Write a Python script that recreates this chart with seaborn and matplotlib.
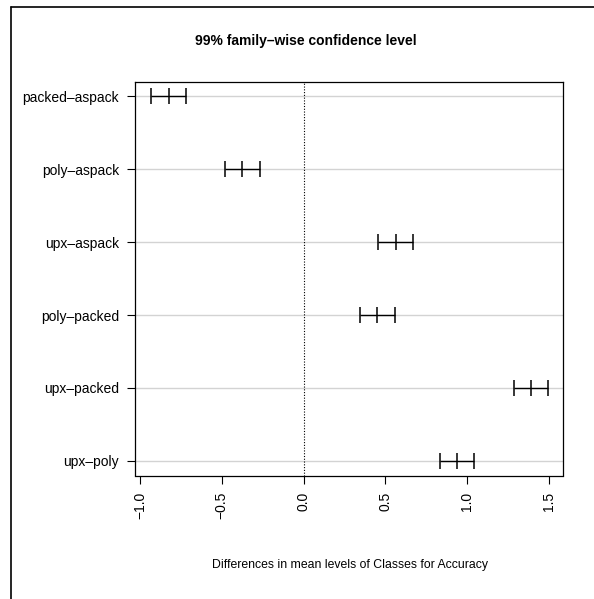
import matplotlib
matplotlib.use("Agg")
import matplotlib.pyplot as plt
import seaborn as sns
import pandas as pd
from matplotlib.lines import Line2D

comparisons = ["packed–aspack", "poly–aspack", "upx–aspack", "poly–packed", "upx–packed", "upx–poly"]
diff = [-0.825, -0.374, 0.562, 0.451, 1.389, 0.937]
lwr = [-0.932, -0.480, 0.454, 0.344, 1.283, 0.831]
upr = [-0.718, -0.268, 0.669, 0.558, 1.496, 1.044]
x_ticks = [-1.0, -0.5, 0.0, 0.5, 1.0, 1.5]

sns.set_theme(style="white")
plt.rcParams["font.family"] = ["Liberation Sans", "DejaVu Sans"]
plt.rcParams["text.color"] = "black"
plt.rcParams["xtick.color"] = "black"
plt.rcParams["ytick.color"] = "black"

pos = list(range(1, len(comparisons) + 1))
df = pd.DataFrame({"comparison": comparisons, "pos": pos, "diff": diff, "lwr": lwr, "upr": upr})
long = df.melt(id_vars=["comparison", "pos"], value_vars=["lwr", "diff", "upr"], var_name="stat", value_name="value")

fig = plt.figure(figsize=(5.94, 5.99), dpi=100)
ax = fig.add_axes([135 / 594, 123.5 / 599, (563 - 135) / 594, (475.5 - 81.7) / 599])

# light grey horizontal guide lines
for p in pos:
    ax.axhline(p, color="#d3d3d3", lw=1, zorder=0)
ax.axvline(0, color="black", lw=0.8, ls=(0, (1, 1.5)), zorder=1)

ax.hlines(df["pos"], df["lwr"], df["upr"], color="black", lw=1, zorder=2)
sns.scatterplot(data=long, x="value", y="pos", marker="|", s=120, color="black",
                linewidth=1.1, legend=False, ax=ax, zorder=3)

ax.set_xlim(-1.03, 1.585)
ax.set_ylim(6.2, 0.8)
ax.set_yticks(pos)
ax.set_yticklabels(comparisons, fontsize=10)
ax.set_xticks(x_ticks)
ax.set_xticklabels([f"{t:.1f}".replace("-", "−") for t in x_ticks], rotation=90, fontsize=10)
ax.tick_params(axis="both", direction="out", length=5.5, width=0.8, colors="black", pad=6,
               bottom=True, left=True)
ax.set_xlabel("")
ax.set_ylabel("")
for s in ax.spines.values():
    s.set_color("black")
    s.set_linewidth(0.9)

fig.text(306 / 594, 1 - 41 / 599, "99% family–wise confidence level", ha="center", va="center",
         fontsize=10, fontweight="bold", color="black")
fig.text(350 / 594, 1 - 565 / 599, "Differences in mean levels of Classes for Accuracy",
         ha="center", va="center", fontsize=8.8, color="black")

# outer frame (left and top edges visible)
fig.add_artist(Line2D([11 / 594, 11 / 594], [0, 1 - 7 / 599], transform=fig.transFigure, color="black", lw=1.2))
fig.add_artist(Line2D([11 / 594, 1], [1 - 7 / 599, 1 - 7 / 599], transform=fig.transFigure, color="black", lw=1.2))

fig.savefig("out.png", dpi=100)
